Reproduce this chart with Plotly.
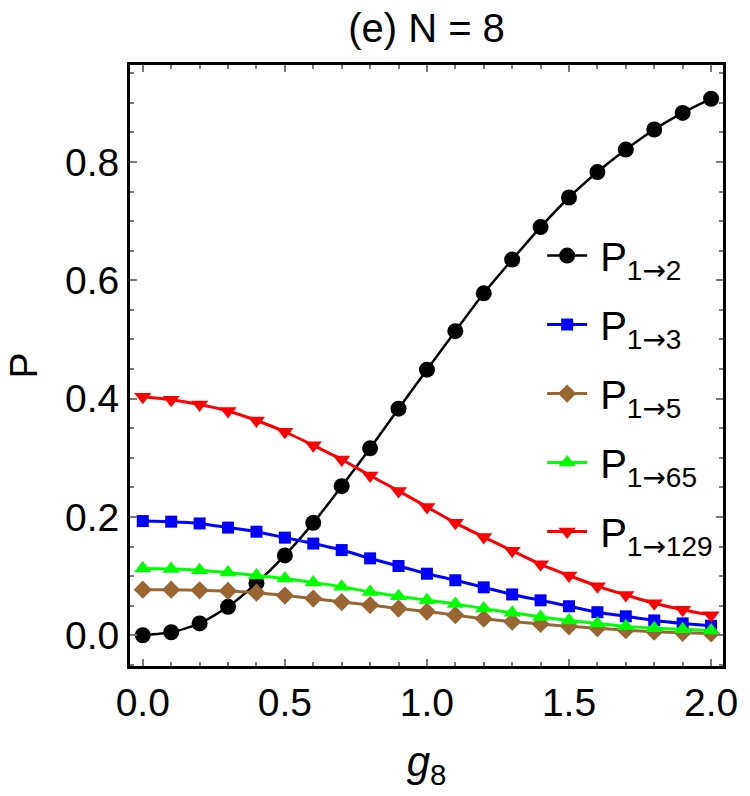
import plotly.graph_objects as go

g = [0.0, 0.1, 0.2, 0.3, 0.4, 0.5, 0.6, 0.7, 0.8, 0.9, 1.0,
     1.1, 1.2, 1.3, 1.4, 1.5, 1.6, 1.7, 1.8, 1.9, 2.0]

p12 = [0.0, 0.005, 0.02, 0.048, 0.088, 0.135, 0.19, 0.252, 0.316, 0.383, 0.449,
       0.514, 0.578, 0.635, 0.69, 0.74, 0.783, 0.821, 0.855, 0.883, 0.907]
p13 = [0.193, 0.192, 0.189, 0.182, 0.175, 0.165, 0.155, 0.144, 0.13, 0.117, 0.104,
       0.093, 0.081, 0.069, 0.059, 0.049, 0.039, 0.032, 0.025, 0.02, 0.016]
p15 = [0.077, 0.077, 0.076, 0.075, 0.072, 0.067, 0.062, 0.056, 0.051, 0.045, 0.04,
       0.034, 0.028, 0.023, 0.019, 0.015, 0.012, 0.0085, 0.006, 0.004, 0.003]
p165 = [0.113, 0.112, 0.11, 0.106, 0.101, 0.096, 0.089, 0.082, 0.073, 0.066, 0.059,
        0.053, 0.045, 0.038, 0.031, 0.025, 0.02, 0.015, 0.012, 0.01, 0.008]
p1129 = [0.403, 0.398, 0.39, 0.379, 0.363, 0.344, 0.321, 0.297, 0.27, 0.244, 0.217,
         0.19, 0.166, 0.143, 0.12, 0.101, 0.083, 0.068, 0.054, 0.043, 0.034]

targets = ["2", "3", "5", "65", "129"]
ARROW = '<span style="font-family:DejaVu Sans">→</span>'
names = ["\u2009P<sub>1" + ARROW + t + "</sub>" for t in targets]

series = [
    (names[0], p12, "black", "circle", 16, 2.5),
    (names[1], p13, "#0000FF", "square", 12, 3),
    (names[2], p15, "#996633", "diamond", 14, 3),
    (names[3], p165, "#00FF00", "triangle-up", 15, 3),
    (names[4], p1129, "#FF0000", "triangle-down", 15, 3),
]

FONT = "Liberation Sans, Arial, sans-serif"

fig = go.Figure()
for i, (name, ys, col, sym, sz, lw) in enumerate(series):
    fig.add_trace(go.Scatter(
        x=g, y=ys, name=name, mode="lines+markers",
        line=dict(color=col, width=lw, shape="spline", smoothing=0.6),
        marker=dict(color=col, symbol=sym, size=sz, line=dict(width=0)),
        legendgroup=f"g{i}",
    ))

axis_common = dict(
    showline=True, linecolor="black", linewidth=3, mirror="allticks",
    ticks="inside", ticklen=7, tickwidth=2, tickcolor="#777777",
    showgrid=False, zeroline=False,
    tickfont=dict(family=FONT, size=39, color="black"),
    tickformat=".1f",
)

fig.update_layout(
    width=750, height=796,
    margin=dict(l=130, r=20, t=65, b=130),
    paper_bgcolor="white", plot_bgcolor="white",
    title=dict(text="(e) N = 8", x=0.5, xref="paper", y=1 - 28 / 796,
               yref="container", yanchor="middle", xanchor="center",
               font=dict(family=FONT, size=40, color="black")),
    xaxis=dict(range=[-0.045, 2.042], tickvals=[0, 0.5, 1.0, 1.5, 2.0],
               minor=dict(dtick=0.1, ticks="inside", ticklen=4, tickwidth=2,
                          tickcolor="#777777", showgrid=False),
               title=dict(text="<i>g</i><sub>8</sub>", standoff=24,
                          font=dict(family=FONT, size=42, color="black")),
               **axis_common),
    yaxis=dict(range=[-0.052, 0.964], tickvals=[0, 0.2, 0.4, 0.6, 0.8],
               minor=dict(dtick=0.05, ticks="inside", ticklen=4, tickwidth=2,
                          tickcolor="#777777", showgrid=False),
               title=dict(text="P", standoff=16,
                          font=dict(family=FONT, size=39, color="black")),
               **axis_common),
    legend=dict(x=0.695, y=0.737, xanchor="left", yanchor="top",
                bgcolor="rgba(0,0,0,0)", itemwidth=40, tracegroupgap=14,
                font=dict(family=FONT, size=40, color="black")),
    showlegend=True,
)

fig.write_html("out.html")
